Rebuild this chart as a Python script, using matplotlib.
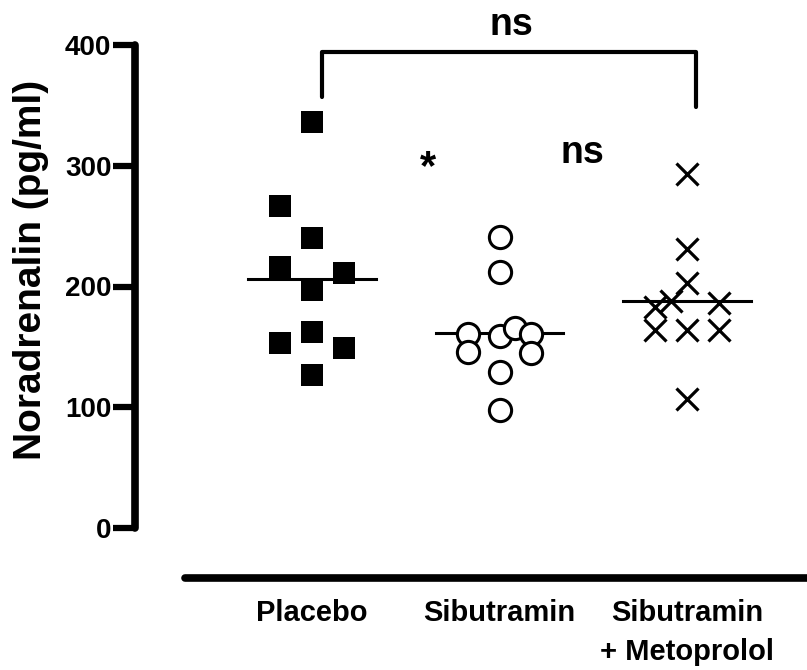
import numpy as np
import matplotlib
matplotlib.use("Agg")
import matplotlib.pyplot as plt

plt.rcParams['font.family'] = ['Liberation Sans', 'DejaVu Sans']
plt.rcParams['font.weight'] = 'bold'

# Werte (pg/ml)
gruppen = ['Placebo', 'Sibutramin', 'Sibutramin\n+ Metoprolol']
placebo = [336, 267, 240, 216, 211, 197, 162, 153, 149, 127]
sibutramin = [241, 212, 161, 159, 166, 161, 146, 145, 129, 98]
sibu_meto = [293, 231, 203, 188, 186, 183, 164, 164, 164, 107]

# horizontale Versetzung der Punkte innerhalb einer Gruppe
vers_placebo = [0, -0.17, 0, -0.17, 0.17, 0, 0, -0.17, 0.17, 0]
vers_sibu = [0, 0, -0.17, 0, 0.085, 0.17, -0.17, 0.17, 0, 0]
vers_meto = [0, 0, 0, -0.085, 0.17, -0.17, -0.17, 0, 0.17, 0]

fig = plt.figure(figsize=(8.07, 6.70), dpi=100)
ax = fig.add_axes([135/807, 1 - 578/670, 1 - 135/807, (578 - 45)/670])

ax.set_xlim(1 - 176.7/187.8, 1 + 495.3/187.8)
ax.set_ylim(-(578 - 528)/1.2075, 400)

daten = [placebo, sibutramin, sibu_meto]
versatz = [vers_placebo, vers_sibu, vers_meto]
stile = [dict(marker='s', ms=16, mfc='black', mec='black', mew=0),
         dict(marker='o', ms=16, mfc='white', mec='black', mew=2.2),
         dict(marker='x', ms=16, mfc='none', mec='black', mew=2.3)]

for i, (werte, dx, st) in enumerate(zip(daten, versatz, stile)):
    pos = i + 1
    ax.plot(pos + np.array(dx), werte, ls='none', zorder=3, clip_on=False, **st)
    m = np.mean(werte)
    ax.plot([pos - 0.34, pos + 0.34], [m, m], color='black', lw=2.2, zorder=2)

# Achsen
for s in ['top', 'right']:
    ax.spines[s].set_visible(False)
ax.spines['left'].set_linewidth(5.5)
ax.spines['left'].set_bounds(0, 400)
ax.spines['left'].set_capstyle('round')
ax.spines['bottom'].set_linewidth(5.5)
ax.spines['bottom'].set_bounds(1 - 126.7/187.8, 1 + 495.3/187.8)
ax.spines['bottom'].set_capstyle('round')

ax.set_yticks([0, 100, 200, 300, 400])
ax.tick_params(axis='y', length=16, width=4.5, pad=1, labelsize=20)
ax.set_xticks([1, 2, 3])
ax.set_xticklabels(gruppen, fontsize=21, linespacing=1.5)
ax.tick_params(axis='x', length=0, pad=15)

fig.text(31/807, 1 - 270/670, 'Noradrenalin (pg/ml)', rotation=90,
         ha='center', va='center', fontsize=28, fontweight='bold')

# Signifikanz
xl, xr = 1 + 10/187.8, 1 + 384.3/187.8
ax.plot([xl, xl, xr, xr], [357, 394, 394, 349], color='black', lw=3,
        solid_joinstyle='round', solid_capstyle='round', clip_on=False)
ax.text(2.063, 408, 'ns', ha='center', va='baseline', fontsize=27, clip_on=False)
ax.text(2.439, 302, 'ns', ha='center', va='baseline', fontsize=27)
ax.text(1.619, 289, '*', ha='center', va='baseline', fontsize=30)

fig.savefig('out.png', dpi=100)
